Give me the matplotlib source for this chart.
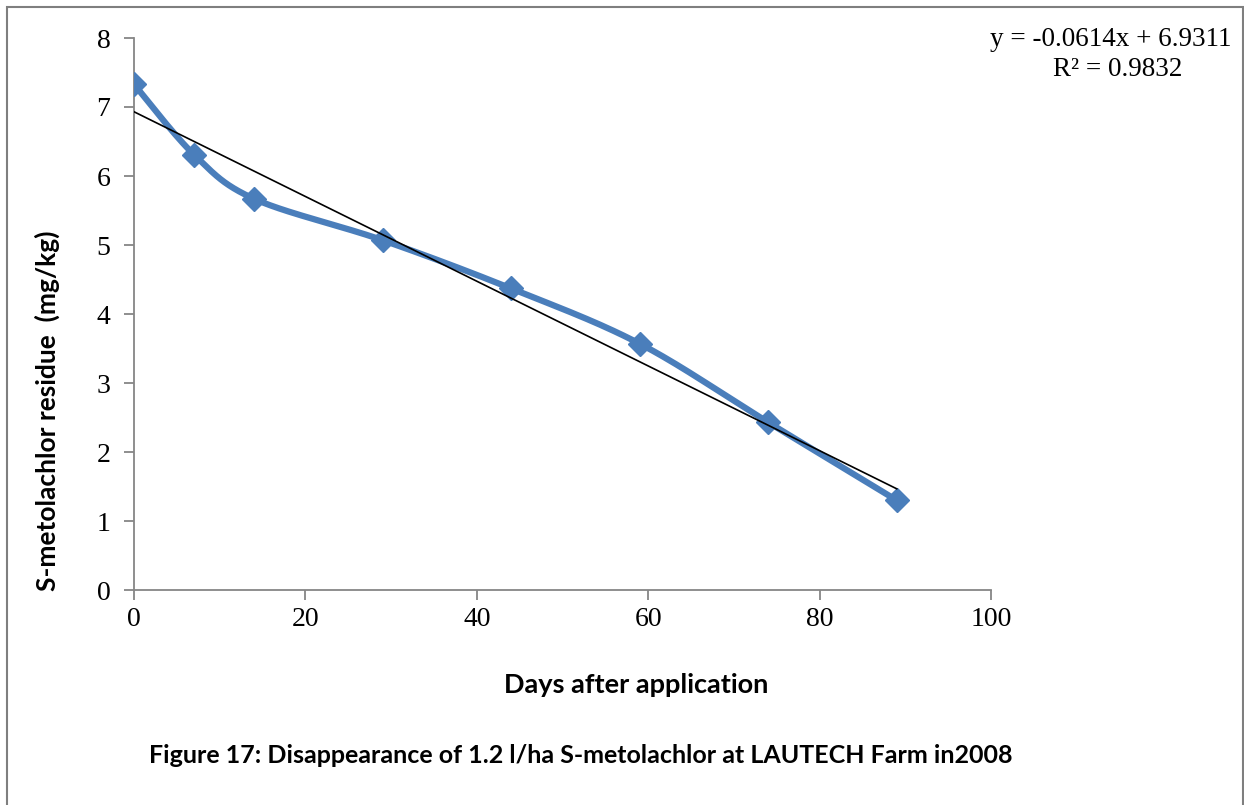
import numpy as np
import matplotlib
matplotlib.use("Agg")
import matplotlib.pyplot as plt
from matplotlib.patches import Rectangle

# Residue data
days = [0, 7, 14, 29, 44, 59, 74, 89]
residue = [7.33, 6.31, 5.67, 5.07, 4.37, 3.57, 2.43, 1.30]

# Linear trendline as stated in the equation label
slope = -0.0614
intercept = 6.9311
r_squared = 0.9832

x_ticks = [0, 20, 40, 60, 80, 100]
y_ticks = [0, 1, 2, 3, 4, 5, 6, 7, 8]


def smooth_curve(xs, ys, n=40, tension=1 / 6):
    """Cardinal-spline (Bezier) smoothing through every point."""
    xs = np.asarray(xs, float)
    ys = np.asarray(ys, float)
    px = np.concatenate([[xs[0]], xs, [xs[-1]]])
    py = np.concatenate([[ys[0]], ys, [ys[-1]]])
    out_x, out_y = [], []
    t = np.linspace(0, 1, n)
    for i in range(1, len(px) - 2):
        p0 = np.array([px[i], py[i]])
        p3 = np.array([px[i + 1], py[i + 1]])
        c1 = p0 + tension * (np.array([px[i + 1], py[i + 1]]) - np.array([px[i - 1], py[i - 1]]))
        c2 = p3 - tension * (np.array([px[i + 2], py[i + 2]]) - np.array([px[i], py[i]]))
        b = (np.outer((1 - t) ** 3, p0) + np.outer(3 * (1 - t) ** 2 * t, c1)
             + np.outer(3 * (1 - t) * t ** 2, c2) + np.outer(t ** 3, p3))
        out_x.extend(b[:, 0])
        out_y.extend(b[:, 1])
    return np.array(out_x), np.array(out_y)


W, H = 1244, 805
fig = plt.figure(figsize=(W / 100, H / 100), dpi=100)
ax = fig.add_axes([134 / W, 1 - 590 / H, (991 - 134) / W, (590 - 38) / H])

blue = "#4A7EBB"
sx, sy = smooth_curve(days, residue)
ax.plot(sx, sy, color=blue, lw=4.5, solid_capstyle="round", zorder=2)
ax.plot(days, residue, ls="none", marker="D", ms=12, color=blue, zorder=3)

tx = np.array([days[0], days[-1]], float)
ax.plot(tx, slope * tx + intercept, color="black", lw=1.2, zorder=4)

ax.set_xlim(0, 100)
ax.set_ylim(0, 8)
ax.set_xticks(x_ticks)
ax.set_yticks(y_ticks)
for s in ["top", "right"]:
    ax.spines[s].set_visible(False)
for s in ["left", "bottom"]:
    ax.spines[s].set_color("#868686")
    ax.spines[s].set_linewidth(1.3)
ax.tick_params(axis="both", direction="out", length=7, width=1.3, color="#868686",
               labelsize=20)
ax.tick_params(axis="x", pad=5)
ax.tick_params(axis="y", pad=10)
for lab in ax.get_xticklabels() + ax.get_yticklabels():
    lab.set_fontfamily("Liberation Serif")

fig.text(636 / W, 1 - 685 / H, "Days after application", ha="center", va="center",
         fontfamily="Lato", fontweight="bold", fontsize=19.5)
fig.text(47 / W, 1 - 411 / H, "S-metolachlor residue  (mg/kg)", ha="center",
         va="center", rotation=90, fontfamily="Lato", fontweight="bold", fontsize=19)

fig.text(1232 / W, 1 - 40 / H, f"y = {slope}x + {intercept}", ha="right",
         va="center", fontfamily="Liberation Serif", fontsize=19.5)
fig.text(1118 / W, 1 - 69 / H, f"R² = {r_squared}", ha="center",
         va="center", fontfamily="Liberation Serif", fontsize=19.5)

fig.text(581 / W, 1 - 755 / H,
         "Figure 17: Disappearance of 1.2 l/ha S-metolachlor at LAUTECH Farm in2008",
         ha="center", va="center", fontfamily="Lato", fontweight="bold", fontsize=18)

# Outer frame
fig.add_artist(Rectangle((7 / W, -0.05), 1236 / W, 1 - 7 / H + 0.05,
                         transform=fig.transFigure, fill=False,
                         edgecolor="#7f7f7f", lw=1.5))

fig.savefig("out.png", dpi=100)
